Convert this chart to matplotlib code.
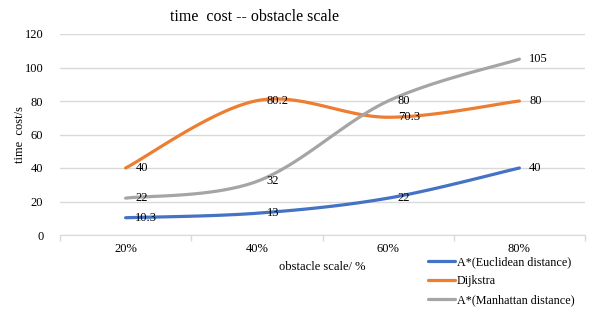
import numpy as np
import matplotlib
matplotlib.use('Agg')
import matplotlib.pyplot as plt

plt.rcParams['font.family'] = ['Liberation Serif', 'DejaVu Serif']

# data
categories = ['20%', '40%', '60%', '80%']
euclid = [10.3, 13, 22, 40]
dijkstra = [40, 80.2, 70.3, 80]
manhattan = [22, 32, 80, 105]

series = [
    ('A*(Euclidean distance)', euclid, '#4472C4'),
    ('Dijkstra', dijkstra, '#ED7D31'),
    ('A*(Manhattan distance)', manhattan, '#A5A5A5'),
]


def smooth(xs, ys, n=40):
    # excel style smoothed line (catmull-rom as cubic bezier)
    px = np.concatenate([[xs[0]], xs, [xs[-1]]])
    py = np.concatenate([[ys[0]], ys, [ys[-1]]])
    ox, oy = [], []
    t = np.linspace(0, 1, n)
    for i in range(1, len(px) - 2):
        p0 = np.array([px[i], py[i]])
        p3 = np.array([px[i + 1], py[i + 1]])
        p1 = p0 + (np.array([px[i + 1], py[i + 1]]) - np.array([px[i - 1], py[i - 1]])) / 6
        p2 = p3 - (np.array([px[i + 2], py[i + 2]]) - np.array([px[i], py[i]])) / 6
        b = (np.outer((1 - t) ** 3, p0) + np.outer(3 * (1 - t) ** 2 * t, p1)
             + np.outer(3 * (1 - t) * t ** 2, p2) + np.outer(t ** 3, p3))
        ox.extend(b[:, 0])
        oy.extend(b[:, 1])
    return ox, oy


fig = plt.figure(figsize=(6.04, 3.24), dpi=100)
ax = fig.add_axes([60 / 604, 1 - 235 / 324, 525 / 604, 201 / 324])

x = np.arange(len(categories))
for name, vals, col in series:
    sx, sy = smooth(x.astype(float), np.array(vals, dtype=float))
    ax.plot(sx, sy, color=col, lw=2.3, label=name, solid_capstyle='round')
    for xi, v in zip(x, vals):
        ax.annotate(f'{v:g}', (xi, v), xytext=(7, 0), textcoords='offset points',
                    ha='left', va='center', fontsize=9)

ax.set_xlim(-0.5, 3.5)
ax.set_ylim(0, 120)
ax.set_yticks(np.arange(0, 121, 20))
ax.set_xticks(x)
ax.set_xticklabels(categories)
ax.set_xticks(np.arange(-0.5, 3.6, 1), minor=True)
ax.tick_params(axis='x', which='major', length=0, labelsize=9, pad=6)
ax.tick_params(axis='x', which='minor', length=4, color='#d9d9d9', width=1)
ax.tick_params(axis='y', length=0, labelsize=9, pad=12)
ax.grid(axis='y', color='#d9d9d9', lw=1)
ax.set_axisbelow(True)
for s in ['top', 'right', 'left']:
    ax.spines[s].set_visible(False)
ax.spines['bottom'].set_color('#d9d9d9')

ax.set_xlabel('obstacle scale/ %', fontsize=9, labelpad=4)
fig.text(20 / 604, 1 - 134 / 324, 'time  cost/s', rotation=90, ha='center', va='center', fontsize=9)
fig.text(255 / 604, 1 - 17 / 324, 'time  cost -- obstacle scale', ha='center', va='center', fontsize=11.5)

fig.legend(loc='upper left', bbox_to_anchor=(422 / 604, 1 - 250 / 324), frameon=False,
           fontsize=8.7, handlelength=2.2, handletextpad=0.2, labelspacing=0.6, borderpad=0)

fig.savefig('out.png', dpi=100)
